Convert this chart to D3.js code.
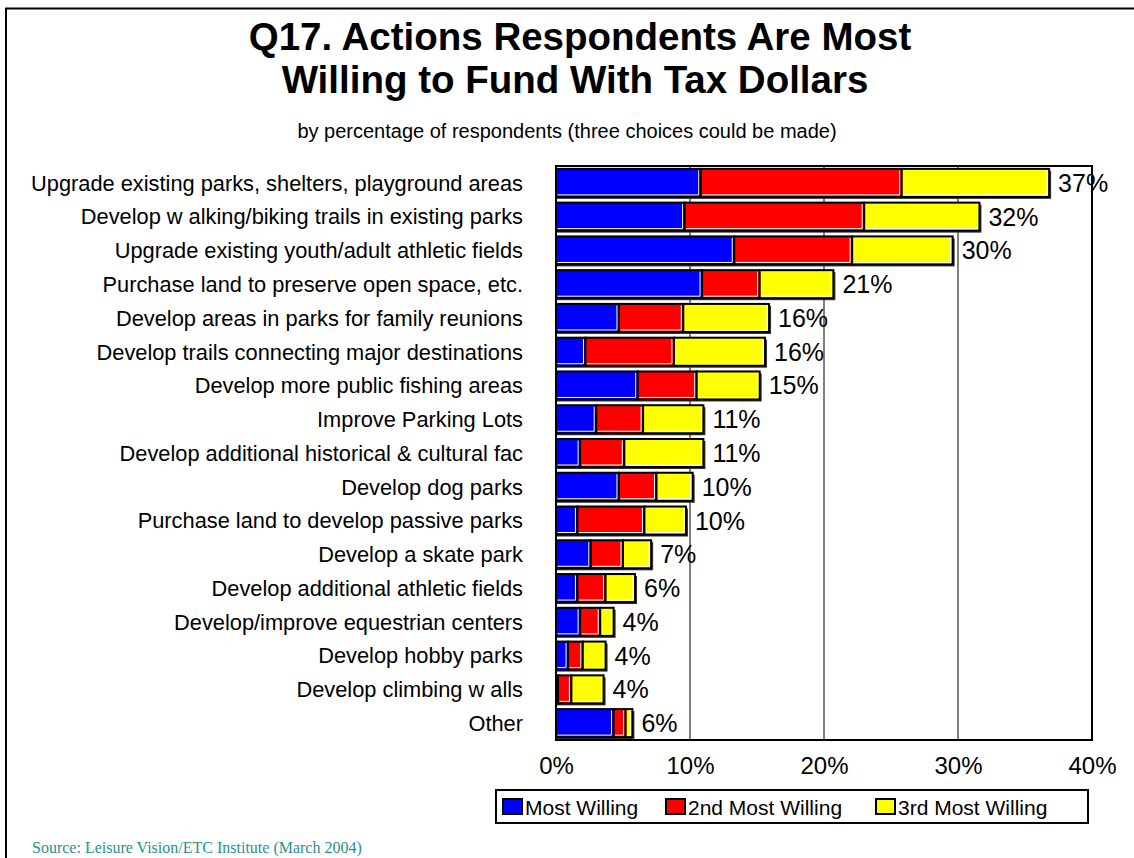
<!DOCTYPE html>
<html>
<head>
<meta charset="utf-8">
<script src="https://cdn.jsdelivr.net/npm/d3@7/dist/d3.min.js"></script>
<style>
  html, body { margin: 0; padding: 0; background: #fff; }
  svg { display: block; }
  text { font-family: "Liberation Sans", Arial, Helvetica, sans-serif; fill: #000; }
</style>
</head>
<body>
<script>
// Survey answers, top to bottom
const categories = [
  "Upgrade existing parks, shelters, playground areas",
  "Develop w alking/biking trails in existing parks",
  "Upgrade existing youth/adult athletic fields",
  "Purchase land to preserve open space, etc.",
  "Develop areas in parks for family reunions",
  "Develop trails connecting major destinations",
  "Develop more public fishing areas",
  "Improve Parking Lots",
  "Develop additional historical & cultural fac",
  "Develop dog parks",
  "Purchase land to develop passive parks",
  "Develop a skate park",
  "Develop additional athletic fields",
  "Develop/improve equestrian centers",
  "Develop hobby parks",
  "Develop climbing w alls",
  "Other"
];

// Percent of respondents per choice rank
const mostWilling   = [10.8, 9.6, 13.3, 10.9, 4.7, 2.2, 6.1, 3.0, 1.8, 4.7, 1.6, 2.6, 1.6, 1.8, 0.9, 0.15, 4.3];
const secondWilling = [15.0, 13.4, 8.8, 4.3, 4.8, 6.6, 4.4, 3.5, 3.3, 2.8, 5.0, 2.4, 2.1, 1.5, 1.1, 1.0, 0.9];
const thirdWilling  = [11.0, 8.6, 7.5, 5.5, 6.4, 6.8, 4.7, 4.5, 5.9, 2.7, 3.1, 2.1, 2.2, 1.0, 1.7, 2.4, 0.5];

// Total labels shown at the end of each bar
const totalLabels = ["37%", "32%", "30%", "21%", "16%", "16%", "15%", "11%", "11%", "10%", "10%", "7%", "6%", "4%", "4%", "4%", "6%"];

const seriesNames = ["Most Willing", "2nd Most Willing", "3rd Most Willing"];
const seriesColors = ["#0000ff", "#ff0000", "#ffff00"];
const xTicks = [0, 10, 20, 30, 40];

const W = 1134, H = 858;
const svg = d3.select("body").append("svg").attr("width", W).attr("height", H);

// slide frame
svg.append("line").attr("x1", 5).attr("x2", W).attr("y1", 8.5).attr("y2", 8.5)
  .attr("stroke", "#000").attr("stroke-width", 2);
svg.append("line").attr("x1", 6).attr("x2", 6).attr("y1", 8).attr("y2", H)
  .attr("stroke", "#000").attr("stroke-width", 2);

// title
const title = svg.append("g").attr("font-size", 38.5).attr("text-anchor", "middle");
title.append("text").attr("x", 580).attr("y", 50).style("font-weight", "bold")
  .text("Q17. Actions Respondents Are Most");
title.append("text").attr("x", 575).attr("y", 93).style("font-weight", "bold")
  .text("Willing to Fund With Tax Dollars");

svg.append("text").attr("x", 567).attr("y", 138).attr("text-anchor", "middle").attr("font-size", 20)
  .text("by percentage of respondents (three choices could be made)");

// scales
const plot = { left: 556, right: 1092, top: 166, bottom: 740 };
const x = d3.scaleLinear().domain([0, 40]).range([plot.left, plot.right]);
const y = d3.scaleBand().domain(categories).range([plot.top, plot.bottom])
  .paddingInner(0.17).paddingOuter(0.085);

// gridlines
svg.append("g").selectAll("line").data(xTicks.filter(t => t > 0 && t < 40)).join("line")
  .attr("x1", d => x(d)).attr("x2", d => x(d))
  .attr("y1", plot.top).attr("y2", plot.bottom)
  .attr("stroke", "#000").attr("stroke-width", 1);

// stacked data
const rows = categories.map((c, i) => ({
  cat: c, v: [mostWilling[i], secondWilling[i], thirdWilling[i]], label: totalLabels[i]
}));
const stack = d3.stack().keys([0, 1, 2]).value((d, k) => d.v[k]);
const layers = stack(rows);

const barG = svg.append("g");
// thin shadow under each full bar
barG.selectAll("rect.shadow").data(rows).join("rect").attr("class", "shadow")
  .attr("x", d => x(0) + 1)
  .attr("y", d => y(d.cat) + 2)
  .attr("width", d => x(d3.sum(d.v)) - x(0) + 1)
  .attr("height", y.bandwidth())
  .attr("fill", "#333");

layers.forEach((layer, k) => {
  const g = barG.append("g");
  g.selectAll("rect").data(layer).join("rect")
    .attr("x", d => x(d[0]))
    .attr("y", d => y(d.data.cat))
    .attr("width", d => Math.max(0, x(d[1]) - x(d[0])))
    .attr("height", y.bandwidth())
    .attr("fill", seriesColors[k])
    .attr("stroke", "#000").attr("stroke-width", 2);
  // light inner edge on right and bottom of each segment
  g.selectAll("path").data(layer).join("path")
    .attr("d", d => {
      const x0 = x(d[0]) + 1.5, x1 = x(d[1]) - 2, y0 = y(d.data.cat) + 1.5, y1 = y(d.data.cat) + y.bandwidth() - 2;
      return x1 > x0 ? `M${x0},${y1}H${x1}V${y0}` : "";
    })
    .attr("fill", "none").attr("stroke", "#fff").attr("stroke-width", 1);
});

// total labels
svg.append("g").selectAll("text").data(rows).join("text")
  .attr("x", d => x(d3.sum(d.v)) + 9)
  .attr("y", d => y(d.cat) + y.bandwidth() / 2)
  .attr("dy", "0.36em")
  .attr("font-size", 25)
  .text(d => d.label);

// category labels
svg.append("g").selectAll("text").data(categories).join("text")
  .attr("x", 523)
  .attr("y", d => y(d) + y.bandwidth() / 2)
  .attr("dy", "0.36em")
  .attr("text-anchor", "end")
  .attr("font-size", 21.8)
  .text(d => d);

// plot frame
svg.append("rect").attr("x", plot.left).attr("y", plot.top)
  .attr("width", plot.right - plot.left).attr("height", plot.bottom - plot.top)
  .attr("fill", "none").attr("stroke", "#000").attr("stroke-width", 2);

// x axis labels
const xAxis = d3.axisBottom(x).tickValues(xTicks).tickFormat(d => d + "%").tickSize(0).tickPadding(17);
const ax = svg.append("g").attr("transform", `translate(0,${plot.bottom})`).call(xAxis);
ax.select(".domain").remove();
ax.selectAll("text").attr("font-size", 24).attr("font-family", "Liberation Sans, Arial, sans-serif").attr("fill", "#000");

// legend
const legend = svg.append("g");
legend.append("rect").attr("x", 496).attr("y", 790).attr("width", 592).attr("height", 33)
  .attr("fill", "#fff").attr("stroke", "#000").attr("stroke-width", 2);
const legendX = [503, 666, 876];
seriesNames.forEach((name, k) => {
  legend.append("rect").attr("x", legendX[k]).attr("y", 799).attr("width", 19).attr("height", 15)
    .attr("fill", seriesColors[k]).attr("stroke", "#000").attr("stroke-width", 2);
  legend.append("text").attr("x", legendX[k] + 22).attr("y", 815).attr("font-size", 21).text(name);
});

// source note
svg.append("text").attr("x", 32).attr("y", 853)
  .style("font-family", "'Liberation Serif', 'Times New Roman', serif")
  .style("fill", "#2b8f8f").attr("font-size", 16)
  .text("Source:  Leisure Vision/ETC Institute (March 2004)");
</script>
</body>
</html>
